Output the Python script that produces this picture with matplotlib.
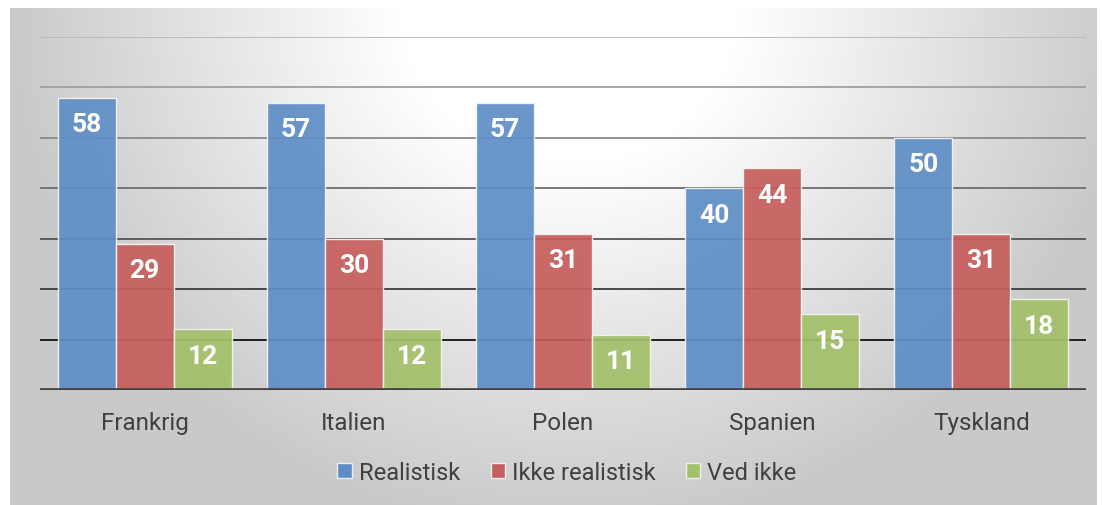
import numpy as np
import matplotlib
matplotlib.use("Agg")
import matplotlib.pyplot as plt
from matplotlib.patches import Patch

countries = ["Frankrig", "Italien", "Polen", "Spanien", "Tyskland"]
realistisk = [58, 57, 57, 40, 50]
ikke_realistisk = [29, 30, 31, 44, 31]
ved_ikke = [12, 12, 11, 15, 18]
series_names = ["Realistisk", "Ikke realistisk", "Ved ikke"]
colors = ["#5f8ec6", "#c65f5d", "#a3c06a"]

plt.rcParams['font.family'] = ['Roboto', 'DejaVu Sans']

W, H = 1102, 506
fig = plt.figure(figsize=(W / 100, H / 100), dpi=100)
fig.patch.set_facecolor("white")

# background panel with radial gradient
bg = fig.add_axes([10 / W, 0, 1087 / W, 497 / H])
bg.set_axis_off()
yy, xx = np.mgrid[0:497, 0:1087]
r = np.sqrt(((xx - 560) / 560.0) ** 2 + (yy / 520.0) ** 2)
t = np.clip((r - 0.3) / 0.7, 0, 1)
shade = 1.0 - 0.21 * t
img = np.dstack([shade, shade, shade])
bg.imshow(img, aspect="auto", interpolation="bilinear")

ax = fig.add_axes([40 / W, (H - 391) / H, 1046 / W, 353 / H])
ax.set_facecolor("none")
ax.set_xlim(-0.5, len(countries) - 0.5)
ax.set_ylim(0, 70)

# gridlines get darker towards the bottom
grid_cols = ["#111111", "#3c3c3c", "#555555", "#6e6e6e", "#8a8a8a", "#a0a0a0", "#b8b8b8"]
for k, v in enumerate(range(10, 80, 10)):
    ax.axhline(v, color=grid_cols[k], lw=1.3, zorder=1)
ax.axhline(0, color="#404040", lw=2.6, zorder=4)

x = np.arange(len(countries))
w = 0.277
for j, (vals, c) in enumerate(zip([realistisk, ikke_realistisk, ved_ikke], colors)):
    bars = ax.bar(x + (j - 1) * w, vals, width=w, color=c, alpha=0.93,
                  edgecolor="#f4f4f4", linewidth=1.0, zorder=3)
    for b, v in zip(bars, vals):
        ax.annotate(str(v), (b.get_x() + b.get_width() / 2, v),
                    xytext=(0, -19), textcoords="offset points",
                    ha="center", va="center", color="white",
                    fontsize=19, fontweight="bold", zorder=5)

for s in ax.spines.values():
    s.set_visible(False)
ax.set_yticks([])
ax.set_xticks(x)
ax.set_xticklabels(countries, fontsize=17.5, color="#404040")
ax.tick_params(axis="x", length=0, pad=15)

handles = [Patch(facecolor=c, edgecolor="#eeeeee") for c in colors]
fig.legend(handles, series_names, loc="center", bbox_to_anchor=(567 / W, 1 - 473 / H),
           ncol=3, frameon=False, fontsize=17, handlelength=0.6, handleheight=0.6,
           handletextpad=0.3, columnspacing=1.3, labelcolor="#404040")

fig.savefig("out.png", dpi=100)
